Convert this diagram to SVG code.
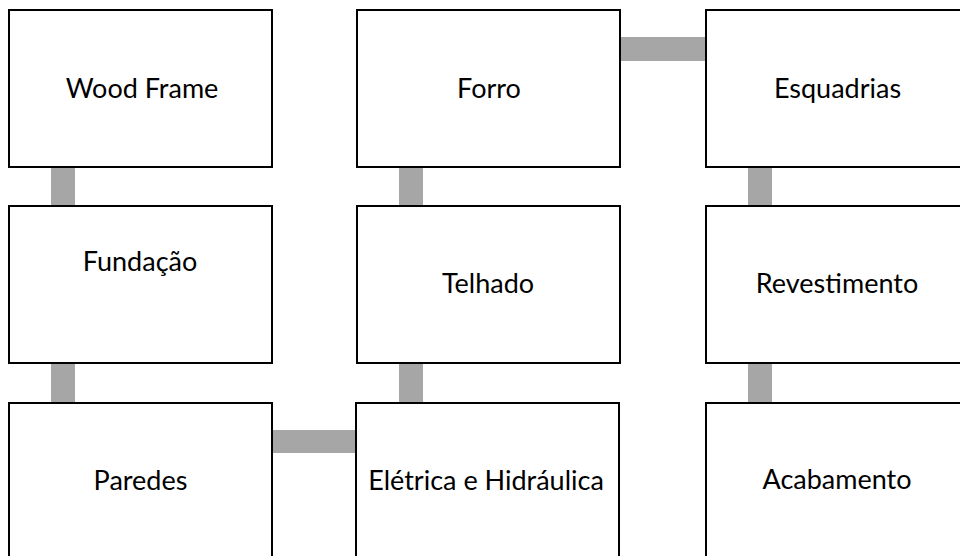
<svg xmlns="http://www.w3.org/2000/svg" width="960" height="556" viewBox="0 0 960 556">
<style>
.box{fill:#ffffff;stroke:#000000;stroke-width:2}
.lbl{font-family:Lato,"Open Sans","Liberation Sans",sans-serif;font-size:27px;fill:#000000;text-anchor:middle}
.con{fill:#a6a6a6;stroke:none}
</style>
<rect width="960" height="556" fill="#ffffff"/>
<g id="connectors">
<rect class="con" x="51" y="166" width="24" height="41"/>
<rect class="con" x="51" y="362" width="24" height="42"/>
<rect class="con" x="399" y="166" width="24" height="41"/>
<rect class="con" x="399" y="362" width="24" height="42"/>
<rect class="con" x="748" y="166" width="24" height="41"/>
<rect class="con" x="748" y="362" width="24" height="42"/>
<rect class="con" x="619" y="37" width="88" height="24"/>
<rect class="con" x="271" y="430" width="86" height="23"/>
</g>
<g id="node-wood-frame"><rect class="box" x="9" y="10" width="263" height="157"/><text class="lbl" x="142" y="98">Wood Frame</text></g>
<g id="node-fundacao"><rect class="box" x="9" y="206" width="263" height="157"/><text class="lbl" x="140" y="271">Fundação</text></g>
<g id="node-paredes"><rect class="box" x="9" y="403" width="263" height="157"/><text class="lbl" x="140.5" y="490">Paredes</text></g>
<g id="node-forro"><rect class="box" x="357" y="10" width="263" height="157"/><text class="lbl" x="489" y="98">Forro</text></g>
<g id="node-telhado"><rect class="box" x="357" y="206" width="263" height="157"/><text class="lbl" x="488" y="293">Telhado</text></g>
<g id="node-eletrica"><rect class="box" x="356" y="403" width="263" height="157"/><text class="lbl" x="486" y="490">Elétrica e Hidráulica</text></g>
<g id="node-esquadrias"><rect class="box" x="706" y="10" width="263" height="157"/><text class="lbl" x="837.5" y="98">Esquadrias</text></g>
<g id="node-revestimento"><rect class="box" x="706" y="206" width="263" height="157"/><text class="lbl" x="837" y="293">Revestimento</text></g>
<g id="node-acabamento"><rect class="box" x="706" y="403" width="263" height="157"/><text class="lbl" x="837" y="489">Acabamento</text></g>
</svg>
